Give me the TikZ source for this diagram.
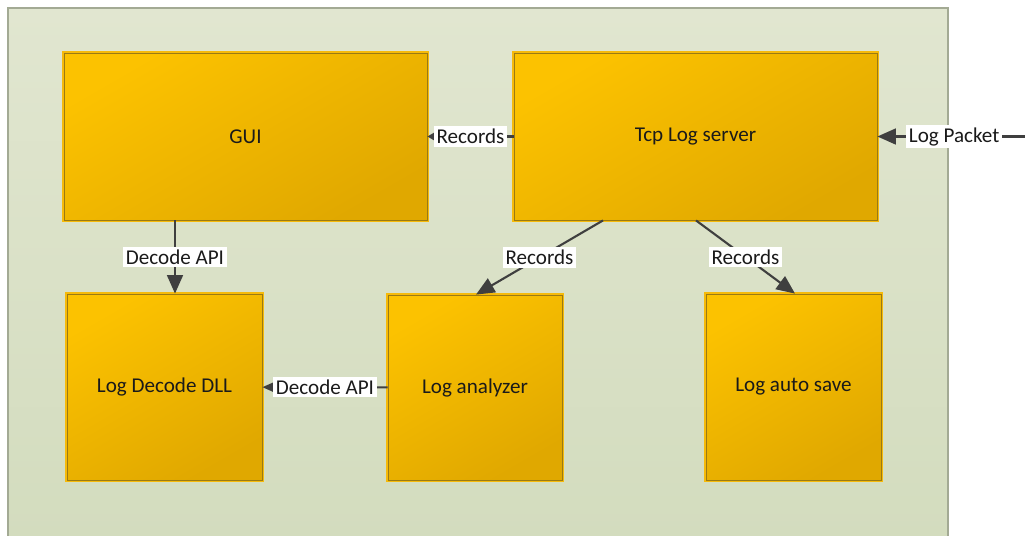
\documentclass[tikz,border=0pt]{standalone}
\usepackage{fontspec}
\setmainfont{Carlito}
\usetikzlibrary{arrows.meta}
\definecolor{panelTop}{HTML}{E1E6D0}
\definecolor{panelBot}{HTML}{D3DCBE}
\definecolor{panelLine}{HTML}{A3AA94}
\definecolor{boxTop}{HTML}{FCC200}
\definecolor{boxBot}{HTML}{E0A800}
\definecolor{boxLine}{HTML}{9A7A14}
\definecolor{boxRim}{HTML}{F6BA0A}
\definecolor{wire}{HTML}{3F3F3F}
\definecolor{ink}{HTML}{1A1A1A}
\begin{document}
\begin{tikzpicture}[
    x=0.02cm, y=-0.02cm,
    every node/.style={font=\fontsize{12}{14}\selectfont, text=ink},
    block/.style={rectangle, top color=boxTop, bottom color=boxBot, shading angle=30,
        draw=boxLine, line width=0.5pt, preaction={draw=boxRim, line width=2.4pt}},
    tag/.style={fill=white, inner sep=1.5pt},
    link/.style={draw=wire, line width=1.2pt, -{Triangle[length=10.5pt, width=9pt]}},
    smalllink/.style={draw=wire, line width=1.2pt, -{Triangle[length=5pt, width=5.5pt]}}
]
    \useasboundingbox (0,0) rectangle (1025,535);
    % background panel
    \shade[top color=panelTop, bottom color=panelBot] (8,8) rectangle (948,540);
    \draw[panelLine, line width=0.8pt] (8,540) -- (8,8) -- (948,8) -- (948,540);

    \node[block, minimum width=7.26cm, minimum height=3.34cm] at (245.5,136.5) (gui) {GUI};
    \node[block, minimum width=7.26cm, minimum height=3.34cm] at (695.5,136.5) (server) {Tcp Log server};
    \node[block, minimum width=3.9cm, minimum height=3.72cm] at (164.5,387) (dll) {Log Decode DLL};
    \node[block, minimum width=3.48cm, minimum height=3.7cm] at (475,387.5) (analyzer) {Log analyzer};
    \node[block, minimum width=3.5cm, minimum height=3.72cm] at (793.5,387) (autosave) {Log auto save};

    \coordinate (packet) at (1025,136.5);

    \draw[link] (packet) -- node[tag, pos=0.48] {Log Packet} (server);
    \draw[smalllink] (server) -- node[tag] {Records} (gui);
    \draw[link] (175,0 |- gui.south) -- node[tag] {Decode API} (175,0 |- dll.north);
    \draw[link] (603,0 |- server.south) -- node[tag] {Records} (476,0 |- analyzer.north);
    \draw[link] (696,0 |- server.south) -- node[tag] {Records} (795,0 |- autosave.north);
    \draw[link] (analyzer) -- node[tag] {Decode API} (dll);
\end{tikzpicture}
\end{document}
